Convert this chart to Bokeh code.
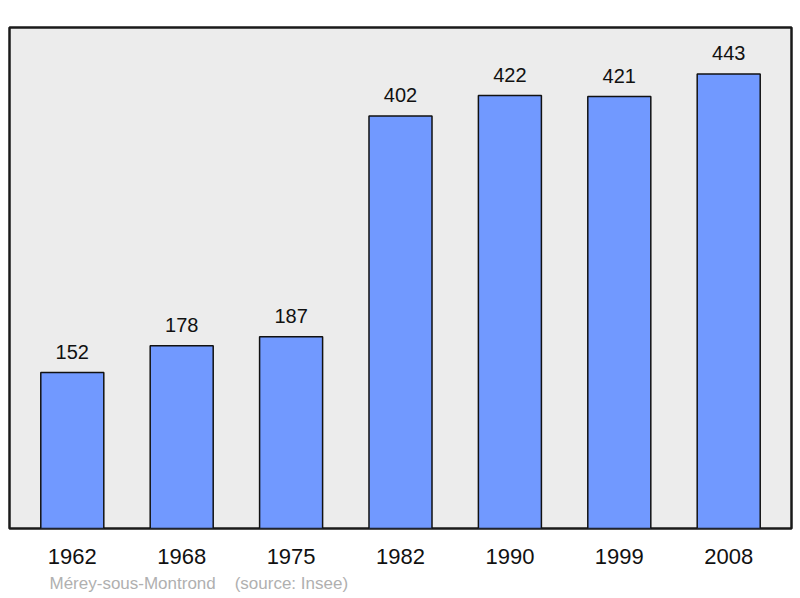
from bokeh.plotting import figure
from bokeh.models import ColumnDataSource, FactorRange, Range1d, Title
from bokeh.core.properties import value
from bokeh.embed import file_html
from bokeh.resources import INLINE

years = ["1962", "1968", "1975", "1982", "1990", "1999", "2008"]
population = [152, 178, 187, 402, 422, 421, 443]
place = "Mérey-sous-Montrond"
source_note = "(source: Insee)"

src = ColumnDataSource(dict(year=years, pop=population, label=[str(v) for v in population]))

p = figure(
    width=800, height=598,
    x_range=FactorRange(factors=years, range_padding=0.074, range_padding_units="absolute"),
    y_range=Range1d(0, 488.3),
    output_backend="svg", toolbar_location=None,
    min_border_left=9, min_border_right=9, min_border_top=27, min_border_bottom=70,
)
p.background_fill_color = "#ececec"
p.border_fill_color = "white"
p.outline_line_color = "#1a1a1a"
p.outline_line_width = 2.5
p.grid.visible = False
p.yaxis.visible = False

p.vbar(x="year", top="pop", bottom=0, width=0.576, source=src,
       fill_color="#7199ff", line_color="#111111", line_width=1.5)

p.text(x="year", y="pop", text="label", source=src,
       text_align="center", text_baseline="alphabetic", y_offset=-21,
       text_font=value("Liberation Sans"), text_font_size="20px", text_color="#111111")

ax = p.xaxis[0]
ax.axis_line_color = None
ax.major_tick_line_color = None
ax.minor_tick_line_color = None
ax.major_tick_out = 0
ax.major_label_standoff = 20
ax.major_label_text_font = "Liberation Sans"
ax.major_label_text_font_size = "22px"
ax.major_label_text_color = "#111111"

foot = Title(text=place + "\u00a0" * 4 + source_note, align="left", offset=40,
             text_font="Liberation Sans", text_font_size="17px",
             text_color="#b0b0b0", text_font_style="normal", standoff=11)
p.add_layout(foot, "below")

open("out.html", "w").write(file_html(p, INLINE))
